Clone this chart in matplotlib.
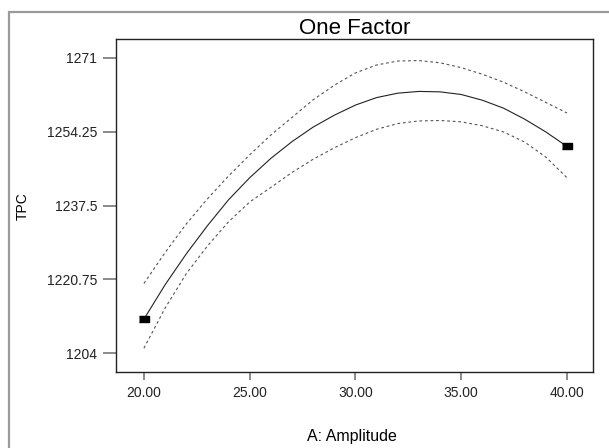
import matplotlib.pyplot as plt
from matplotlib.patches import Rectangle

plt.rcParams["font.family"] = ["Liberation Sans", "DejaVu Sans"]

# A: Amplitude
amplitude = [20, 21, 22, 23, 24, 25, 26, 27, 28, 29, 30,
             31, 32, 33, 34, 35, 36, 37, 38, 39, 40]
# predicted TPC and the two dotted bands
tpc = [1211.7, 1219.5, 1226.5, 1232.9, 1238.8, 1243.8, 1248.2, 1252.0, 1255.3, 1258.0, 1260.3,
       1262.0, 1263.0, 1263.4, 1263.3, 1262.7, 1261.4, 1259.6, 1257.1, 1254.2, 1250.9]
tpc_upper = [1219.8, 1226.8, 1233.3, 1239.0, 1244.2, 1249.0, 1253.5, 1257.5, 1261.5, 1264.8, 1267.6,
             1269.4, 1270.3, 1270.4, 1269.9, 1268.8, 1267.3, 1265.5, 1263.3, 1260.9, 1258.5]
tpc_lower = [1205.1, 1214.2, 1222.0, 1228.3, 1233.8, 1238.3, 1241.6, 1245.0, 1248.0, 1250.6, 1252.9,
             1254.8, 1256.1, 1256.7, 1256.8, 1256.5, 1255.6, 1254.2, 1251.9, 1248.5, 1243.8]
# design points
design_x = [20, 40]
design_y = [1211.7, 1251.0]

yticks = [1204, 1220.75, 1237.5, 1254.25, 1271]
ytick_labels = ["1204", "1220.75", "1237.5", "1254.25", "1271"]
xticks = [20, 25, 30, 35, 40]
xtick_labels = ["20.00", "25.00", "30.00", "35.00", "40.00"]

fig = plt.figure(figsize=(6.09, 4.48), dpi=100)
ax = fig.add_axes([116 / 609, 1 - 372 / 448, (593 - 116) / 609, (372 - 39) / 448])

# grey frame round the whole picture
fig.patches.append(Rectangle((9 / 609, -0.05), 1.0, 1 - 12 / 448 + 0.05,
                             transform=fig.transFigure, fill=False,
                             edgecolor="#9a9a9a", linewidth=1.6))

ax.plot(amplitude, tpc, color="#222222", linewidth=0.8)
ax.plot(amplitude, tpc_upper, color="#555555", linewidth=0.8, linestyle=(0, (2.5, 2.5)))
ax.plot(amplitude, tpc_lower, color="#555555", linewidth=0.8, linestyle=(0, (2.5, 2.5)))
ax.plot(design_x, design_y, linestyle="none", color="black",
        marker=[(-1.5, -1), (1.5, -1), (1.5, 1), (-1.5, 1)], markersize=7)

ax.set_xlim(18.68, 41.23)
ax.set_ylim(1199.7, 1275.3)
ax.set_yticks(yticks)
ax.set_yticklabels(ytick_labels)
ax.set_xticks(xticks)
ax.set_xticklabels(xtick_labels)
ax.tick_params(axis="y", length=9.5, width=1.2, color="#777777", pad=4,
               labelsize=10, labelcolor="#222222")
ax.tick_params(axis="x", length=6, width=1.2, color="#777777", pad=4,
               labelsize=10, labelcolor="#222222")
for s in ax.spines.values():
    s.set_linewidth(1.0)
    s.set_color("#222222")

ax.set_title("One Factor", fontsize=16, pad=2)
fig.text(352 / 609, 1 - 436 / 448, "A: Amplitude", fontsize=11.5, ha="center", va="center")
fig.text(23 / 609, 1 - 206 / 448, "TPC", fontsize=10, rotation=90, ha="center", va="center")

plt.savefig("out.png", dpi=100)
